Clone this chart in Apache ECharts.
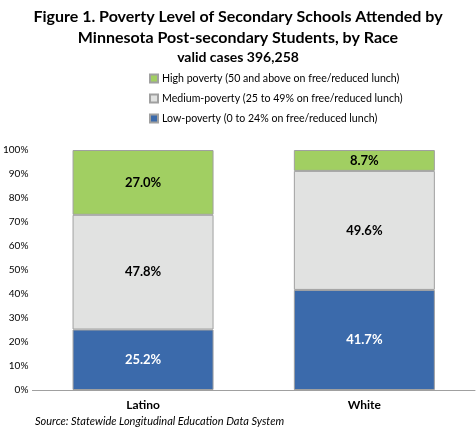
<!DOCTYPE html>
<html><head><meta charset="utf-8">
<script src="https://cdn.jsdelivr.net/npm/echarts@6/dist/echarts.min.js"></script>
<style>html,body{margin:0;padding:0;background:#fff}#c{width:476px;height:433px}</style>
</head><body><div id="c"></div>
<script>
var categories = ['Latino', 'White'];
var lowPoverty = [25.2, 41.7];
var mediumPoverty = [47.8, 49.6];
var highPoverty = [27.0, 8.7];
var seriesNames = ['Low-poverty (0 to 24% on free/reduced lunch)', 'Medium-poverty (25 to 49% on free/reduced lunch)', 'High poverty (50 and above on free/reduced lunch)'];
var titleLines = ['Figure 1. Poverty Level of Secondary Schools Attended by', 'Minnesota Post-secondary Students, by Race', 'valid cases 396,258'];
var sourceText = 'Source: Statewide Longitudinal Education Data System';

var font = 'Lato, "Open Sans", sans-serif';
var chart = echarts.init(document.getElementById('c'));
function mk(name, data, color, labelColor) {
  return {
    name: name, type: 'bar', stack: 'a', data: data, barWidth: 141,
    itemStyle: {color: color, borderColor: '#a0a0a0', borderWidth: 1},
    label: {show: true, position: 'inside', formatter: function(p){return p.value.toFixed(1)+'%';},
      color: labelColor, fontFamily: font, fontWeight: 'bold', fontSize: 13}
  };
}
chart.setOption({
  animation: false,
  title: [
    {text: titleLines[0] + '\n' + titleLines[1], left: 'center', top: 1, textStyle: {fontFamily: font, fontWeight: 'bold', fontSize: 16, lineHeight: 21, color: '#000'}},
    {text: titleLines[2], left: 'center', top: 45, textStyle: {fontFamily: font, fontWeight: 'bold', fontSize: 14, color: '#000'}},
    {text: sourceText, left: 30, top: 411, textStyle: {fontFamily: font, fontStyle: 'italic', fontWeight: 'normal', fontSize: 11, color: '#000'}}
  ],
  legend: {
    orient: 'vertical', left: 144, top: 68, itemWidth: 8, itemHeight: 8, itemGap: 9,
    data: [seriesNames[2], seriesNames[1], seriesNames[0]],
    textStyle: {fontFamily: font, fontSize: 10.6, color: '#000', padding: [0,0,0,-1]},
    icon: 'rect'
  },
  grid: {left: 29, right: 1, top: 150, bottom: 43, containLabel: false},
  xAxis: {type: 'category', data: categories,
    axisLine: {lineStyle: {color: '#a0a0a0'}}, axisTick: {show: false},
    axisLabel: {fontFamily: font, fontWeight: 'bold', fontSize: 12, color: '#000', margin: 9}},
  yAxis: {type: 'value', min: 0, max: 100, interval: 10,
    axisLabel: {formatter: '{value}%', fontFamily: font, fontSize: 10, color: '#000', margin: 4},
    axisLine: {show: false}, axisTick: {show: false}, splitLine: {show: false}},
  series: [
    mk(seriesNames[0], lowPoverty, '#3b6aab', '#fff'),
    mk(seriesNames[1], mediumPoverty, '#e1e2e1', '#000'),
    mk(seriesNames[2], highPoverty, '#a1cf62', '#000')
  ]
});
</script></body></html>
